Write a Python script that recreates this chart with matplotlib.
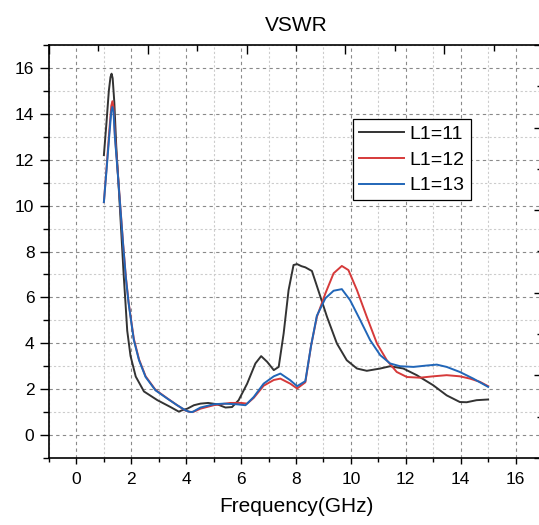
import matplotlib
matplotlib.use('Agg')
import matplotlib.pyplot as plt
from matplotlib.ticker import MultipleLocator

plt.rcParams['font.family'] = ['Liberation Sans', 'DejaVu Sans']

# ---- data ----
f11 = [1.0, 1.1, 1.18, 1.24, 1.28, 1.32, 1.38, 1.45, 1.55, 1.64, 1.72, 1.79, 1.85, 1.97, 2.16, 2.46,
       2.95, 3.43, 3.73, 3.85, 4.04, 4.28, 4.52, 4.8, 5.13, 5.43, 5.67, 5.91, 6.22, 6.52,
       6.73, 6.95, 7.19, 7.37, 7.55, 7.73, 7.91, 8.04, 8.2, 8.34, 8.58, 8.76, 9.13, 9.49,
       9.85, 10.22, 10.58, 11.07, 11.43, 11.91, 12.4, 13.0, 13.49, 13.97, 14.22, 14.58, 15.0]
v11 = [12.2, 13.7, 15.0, 15.6, 15.75, 15.55, 14.5, 12.6, 10.6, 8.7, 7.0, 5.7, 4.55, 3.45, 2.55, 1.9,
       1.52, 1.22, 1.02, 1.08, 1.15, 1.3, 1.37, 1.4, 1.34, 1.2, 1.22, 1.52, 2.24, 3.12,
       3.44, 3.19, 2.83, 2.97, 4.43, 6.32, 7.41, 7.45, 7.36, 7.31, 7.15, 6.5, 5.15, 3.99,
       3.26, 2.9, 2.8, 2.9, 3.0, 2.9, 2.61, 2.17, 1.73, 1.44, 1.43, 1.52, 1.55]

f12 = [1.0, 1.1, 1.2, 1.27, 1.31, 1.35, 1.4, 1.5, 1.6, 1.7, 1.8, 1.9, 1.97, 2.09, 2.28, 2.52, 2.88,
       3.31, 3.67, 3.97, 4.15, 4.28, 4.52, 5.0, 5.37, 5.61, 6.0, 6.22, 6.46, 6.82, 7.19,
       7.43, 7.79, 8.04, 8.34, 8.55, 8.76, 9.07, 9.37, 9.67, 9.91, 10.22, 10.58, 10.95,
       11.31, 11.67, 12.04, 12.52, 13.0, 13.49, 13.97, 14.34, 14.7, 15.0]
v12 = [10.15, 11.7, 13.3, 14.35, 14.55, 14.3, 13.1, 11.55, 9.95, 8.35, 6.9, 5.8, 5.2, 4.2, 3.3, 2.56, 1.97,
       1.6, 1.3, 1.07, 1.0, 1.02, 1.15, 1.3, 1.36, 1.40, 1.40, 1.37, 1.62, 2.15, 2.4,
       2.46, 2.24, 2.03, 2.3, 3.9, 5.15, 6.17, 7.05, 7.37, 7.19, 6.32, 5.15, 3.99,
       3.26, 2.75, 2.53, 2.5, 2.56, 2.61, 2.56, 2.46, 2.32, 2.13]

f13 = [1.0, 1.1, 1.2, 1.27, 1.31, 1.35, 1.4, 1.5, 1.6, 1.7, 1.8, 1.9, 1.97, 2.09, 2.28, 2.52, 2.88,
       3.31, 3.67, 3.97, 4.1, 4.22, 4.52, 5.0, 5.37, 5.85, 6.16, 6.46, 6.82, 7.19, 7.43,
       7.79, 8.04, 8.34, 8.55, 8.76, 9.07, 9.37, 9.67, 9.97, 10.34, 10.7, 11.07, 11.43,
       11.79, 12.28, 12.76, 13.13, 13.49, 13.97, 14.46, 15.0]
v13 = [10.15, 11.6, 13.1, 14.1, 14.3, 14.1, 13.0, 11.5, 9.9, 8.3, 6.85, 5.75, 5.15, 4.14, 3.26, 2.53, 1.95,
       1.59, 1.30, 1.08, 1.02, 1.0, 1.2, 1.34, 1.37, 1.34, 1.30, 1.66, 2.24, 2.56, 2.68,
       2.39, 2.13, 2.35, 3.9, 5.2, 5.96, 6.29, 6.36, 5.88, 5.01, 4.14, 3.48, 3.12,
       3.0, 2.97, 3.03, 3.07, 2.97, 2.75, 2.46, 2.1]

labels = ['L1=11', 'L1=12', 'L1=13']
colors = ['#333333', '#d63a3a', '#2166b8']

# ---- figure ----
fig = plt.figure(figsize=(5.39, 5.25), dpi=100)
L, R = 49 / 539, 543 / 539
B, T = (525 - 458) / 525, (525 - 45) / 525
ax = fig.add_axes([L, B, R - L, T - B])

for f, v, lab, c in zip([f11, f12, f13], [v11, v12, v13], labels, colors):
    ax.plot(f, v, color=c, lw=1.4, label=lab, solid_joinstyle='round')

ax.set_xlim(-1, 17)
ax.set_ylim(-1, 17)
ax.xaxis.set_major_locator(MultipleLocator(2))
ax.xaxis.set_minor_locator(MultipleLocator(1))
ax.yaxis.set_major_locator(MultipleLocator(2))
ax.yaxis.set_minor_locator(MultipleLocator(1))
ax.set_axisbelow(True)
ax.grid(which='major', color='#8a8a8a', ls=(0, (3, 3)), lw=0.8)
ax.grid(which='minor', color='#cccccc', ls=(0, (2, 2)), lw=0.8)

for s in ['left', 'bottom', 'top']:
    ax.spines[s].set_linewidth(1.2)
    ax.spines[s].set_color('black')
ax.spines['right'].set_visible(False)

ax.tick_params(axis='x', which='major', direction='out', length=4, width=1, labelsize=12.5, pad=6)
ax.tick_params(axis='x', which='minor', direction='out', length=3, width=1)
ax.tick_params(axis='y', which='major', direction='out', length=6.5, width=1, labelsize=12.5, pad=4)
ax.tick_params(axis='y', which='minor', direction='out', length=4.5, width=1)
ax.tick_params(top=False, right=False, which='both')

ax.set_title('VSWR', fontsize=15, pad=10)
ax.set_xlabel('Frequency(GHz)', fontsize=15, labelpad=7)

leg = ax.legend(loc='upper left', bbox_to_anchor=(0.616, 0.820), borderaxespad=0,
                fontsize=14, frameon=True, fancybox=False, edgecolor='black',
                framealpha=1, handlelength=2.3, handletextpad=0.3,
                labelspacing=0.42, borderpad=0.3)
leg.get_frame().set_linewidth(0.9)

# overlay layer: top and right inward ticks (10 divisions)
ax2 = fig.add_axes([L, B, R - L, T - B], frameon=False)
ax2.set_xlim(0, 1)
ax2.set_ylim(0, 1)
ax2.patch.set_visible(False)
ax2.xaxis.tick_top()
ax2.yaxis.tick_right()
ax2.xaxis.set_major_locator(MultipleLocator(0.2))
ax2.xaxis.set_minor_locator(MultipleLocator(0.1))
ax2.yaxis.set_major_locator(MultipleLocator(0.2))
ax2.yaxis.set_minor_locator(MultipleLocator(0.1))
ax2.tick_params(which='major', direction='in', length=6.5, width=1,
                labeltop=False, labelright=False, labelbottom=False, labelleft=False)
ax2.tick_params(which='minor', direction='in', length=4.5, width=1)

fig.savefig('out.png', dpi=100)
